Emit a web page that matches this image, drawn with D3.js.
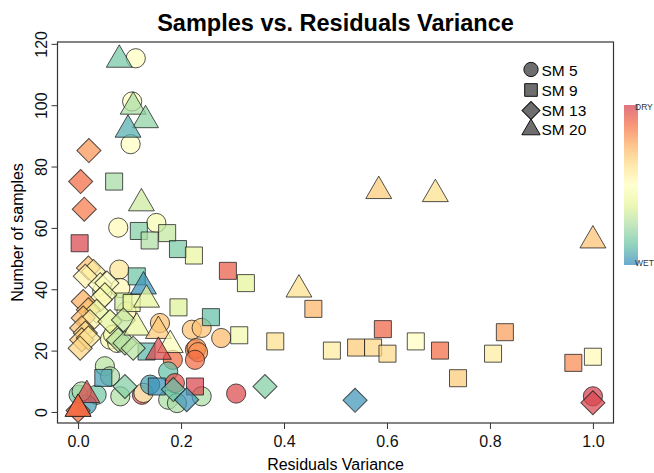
<!DOCTYPE html>
<html>
<head>
<meta charset="utf-8">
<script src="https://cdn.jsdelivr.net/npm/d3@7"></script>
<style>
  body { margin: 0; background: #fff; }
  svg { display: block; font-family: "Liberation Sans", Arial, Helvetica, sans-serif; }
</style>
</head>
<body>
<div id="chart"></div>
<script>
// each point: [residuals variance, number of samples, wetness (0 = dry, 1 = wet)]
var sm5 = [
  [0.112, 115.3, 0.50], [0.105, 101.2, 0.50], [0.102, 87.3, 0.50], [0.078, 60.1, 0.48],
  [0.152, 61.6, 0.55], [0.080, 46.4, 0.40], [0.047, 39.3, 0.50], [0.082, 40.4, 0.47],
  [0.094, 32.8, 0.45], [0.062, 23.6, 0.55], [0.076, 22.5, 0.52], [0.068, 25.2, 0.55],
  [0.159, 29.0, 0.30], [0.221, 26.8, 0.30], [0.240, 27.4, 0.30], [0.278, 24.1, 0.28],
  [0.227, 20.3, 0.20], [0.230, 20.8, 0.20], [0.233, 19.5, 0.20], [0.227, 17.0, 0.12],
  [0.184, 17.0, 0.12], [0.175, 13.2, 0.88], [0.052, 14.9, 0.72], [0.062, 11.6, 0.75],
  [0.082, 5.1, 0.74], [0.124, 5.6, 0.05], [0.127, 6.2, 0.50], [0.140, 8.9, 0.95],
  [0.175, 4.0, 0.75], [0.192, 2.9, 0.75], [0.188, 9.4, 0.05], [0.240, 5.1, 0.75],
  [0.307, 6.0, 0.03], [0.001, 5.6, 0.85], [0.036, 5.6, 0.85], [0.017, 2.4, 0.95],
  [0.007, 6.7, 0.75], [1.000, 5.1, 0.00]
];
var sm9 = [
  [0.070, 75.1, 0.76], [0.003, 55.0, 0.02], [0.118, 59.0, 0.82], [0.139, 55.9, 0.74],
  [0.173, 58.3, 0.70], [0.194, 53.1, 0.84], [0.225, 51.0, 0.60], [0.291, 46.0, 0.08],
  [0.326, 42.0, 0.62], [0.114, 44.2, 0.86], [0.088, 36.0, 0.68], [0.104, 35.5, 0.60],
  [0.195, 34.1, 0.64], [0.258, 30.9, 0.88], [0.313, 25.0, 0.56], [0.383, 23.0, 0.38],
  [0.457, 33.6, 0.27], [0.133, 19.7, 0.90], [0.049, 11.1, 0.95], [0.153, 8.3, 0.98],
  [0.227, 8.3, 0.02], [0.493, 20.0, 0.42], [0.540, 21.0, 0.32], [0.573, 21.0, 0.35],
  [0.592, 27.0, 0.10], [0.601, 19.0, 0.36], [0.656, 23.0, 0.50], [0.703, 20.0, 0.12],
  [0.738, 11.0, 0.32], [0.806, 19.0, 0.42], [0.829, 26.0, 0.22], [0.962, 16.0, 0.18],
  [1.000, 18.0, 0.48]
];
var sm13 = [
  [0.021, 85.2, 0.20], [0.005, 75.1, 0.12], [0.012, 66.1, 0.15], [0.020, 46.9, 0.30],
  [0.030, 45.8, 0.42], [0.014, 44.2, 0.45], [0.043, 41.5, 0.50], [0.056, 42.0, 0.52],
  [0.052, 38.2, 0.58], [0.043, 36.6, 0.48], [0.010, 36.0, 0.25], [0.020, 33.3, 0.30],
  [0.036, 32.8, 0.60], [0.010, 30.6, 0.28], [0.023, 29.5, 0.45], [0.007, 27.4, 0.30],
  [0.014, 25.7, 0.38], [0.007, 23.5, 0.32], [0.020, 24.1, 0.40], [0.004, 20.8, 0.35],
  [0.062, 29.5, 0.62], [0.088, 30.0, 0.70], [0.078, 23.5, 0.72], [0.091, 22.5, 0.73],
  [0.107, 20.8, 0.72], [0.091, 8.3, 0.82], [0.185, 7.3, 0.88], [0.211, 4.0, 0.97],
  [0.363, 8.3, 0.82], [0.538, 3.8, 0.97], [1.000, 3.0, 0.02], [0.000, 0.5, 0.12]
];
var sm20 = [
  [0.080, 114.8, 0.85], [0.107, 99.5, 0.75], [0.131, 95.1, 0.80], [0.097, 92.0, 0.92],
  [0.123, 68.0, 0.68], [0.584, 72.0, 0.32], [0.694, 71.0, 0.38], [1.000, 55.9, 0.30],
  [0.429, 39.9, 0.38], [0.127, 40.9, 0.98], [0.133, 36.6, 0.62], [0.114, 27.5, 0.60],
  [0.156, 26.4, 0.32], [0.179, 21.8, 0.52], [0.156, 19.6, 0.03], [0.017, 5.5, 0.03],
  [0.000, 1.0, 0.12], [0.000, 1.0, 0.12]
];

var seriesNames = ["SM 5", "SM 9", "SM 13", "SM 20"];
var xTicks = [0, 0.2, 0.4, 0.6, 0.8, 1.0];
var yTicks = [0, 20, 40, 60, 80, 100, 120];
var xLim = [-0.04, 1.04];
var yLim = [-3.6, 120.6];
var spectral = ["#D53E4F", "#F46D43", "#FDAE61", "#FEE08B", "#FFFFBF",
                "#E6F598", "#ABDDA4", "#66C2A5", "#3288BD"];

var width = 654, height = 473;
var plot = {left: 57.5, right: 613.5, top: 42, bottom: 423};

var svg = d3.select("#chart").append("svg")
  .attr("width", width)
  .attr("height", height);

var x = d3.scaleLinear().domain(xLim).range([plot.left, plot.right]);
var y = d3.scaleLinear().domain(yLim).range([plot.bottom, plot.top]);
var color = d3.scaleLinear()
  .domain(spectral.map(function(d, i) { return i / (spectral.length - 1); }))
  .range(spectral);

/* one symbol per soil moisture depth */
var shapes = [
  {type: d3.symbolCircle, rot: 0},
  {type: d3.symbolSquare, rot: 0},
  {type: d3.symbolSquare, rot: 45},
  {type: d3.symbolTriangle, rot: 0}
];
var series = [sm5, sm9, sm13, sm20];

series.forEach(function(pts, i) {
  var sym = d3.symbol().type(shapes[i].type).size(290);
  svg.append("g").selectAll("path")
    .data(pts)
    .enter().append("path")
    .attr("d", sym)
    .attr("transform", function(d) {
      return "translate(" + x(d[0]) + "," + y(d[1]) + ") rotate(" + shapes[i].rot + ")";
    })
    .attr("fill", function(d) { return color(d[2]); })
    .attr("fill-opacity", 0.72)
    .attr("stroke", "#1a1a1a")
    .attr("stroke-opacity", 0.75)
    .attr("stroke-width", 1);
});

/* box */
svg.append("rect")
  .attr("x", plot.left).attr("y", plot.top)
  .attr("width", plot.right - plot.left)
  .attr("height", plot.bottom - plot.top)
  .attr("fill", "none")
  .attr("stroke", "#333")
  .attr("stroke-width", 1.2);

/* axes */
var xAxis = svg.append("g")
  .attr("transform", "translate(0," + plot.bottom + ")")
  .call(d3.axisBottom(x).tickValues(xTicks).tickFormat(d3.format(".1f"))
    .tickSize(6).tickPadding(5).tickSizeOuter(0));
xAxis.select(".domain").remove();
xAxis.selectAll("line").attr("stroke", "#333");
xAxis.selectAll("text")
  .attr("font-size", 16)
  .attr("font-family", "Liberation Sans, Arial, sans-serif")
  .attr("fill", "#111")
  .attr("dy", null)
  .attr("y", 24);

var yAxis = svg.append("g")
  .attr("transform", "translate(" + plot.left + ",0)")
  .call(d3.axisLeft(y).tickValues(yTicks).tickSize(6).tickSizeOuter(0));
yAxis.select(".domain").remove();
yAxis.selectAll("line").attr("stroke", "#333");
yAxis.selectAll("text")
  .attr("font-size", 16)
  .attr("font-family", "Liberation Sans, Arial, sans-serif")
  .attr("fill", "#111")
  .attr("text-anchor", "middle")
  .attr("x", null)
  .attr("dy", null)
  .attr("transform", "translate(-11,0) rotate(-90)");

/* titles */
svg.append("text")
  .attr("x", 335.5)
  .attr("y", 31)
  .attr("text-anchor", "middle")
  .attr("font-size", 23.5)
  .attr("font-weight", "bold")
  .text("Samples vs. Residuals Variance");

svg.append("text")
  .attr("x", (plot.left + plot.right) / 2)
  .attr("y", 470)
  .attr("text-anchor", "middle")
  .attr("font-size", 16)
  .text("Residuals Variance");

svg.append("text")
  .attr("transform", "translate(23," + (plot.top + plot.bottom) / 2 + ") rotate(-90)")
  .attr("text-anchor", "middle")
  .attr("font-size", 16)
  .text("Number of samples");

/* legend */
var legend = svg.append("g").attr("transform", "translate(531,0)");
var legendY = [69.5, 90, 110.5, 129.5];
seriesNames.forEach(function(name, i) {
  legend.append("path")
    .attr("d", d3.symbol().type(shapes[i].type).size(i == 3 ? 145 : 160))
    .attr("transform", "translate(0," + legendY[i] + ") rotate(" + shapes[i].rot + ")")
    .attr("fill", "#6e6e6e")
    .attr("stroke", "#111")
    .attr("stroke-width", 1);
  legend.append("text")
    .attr("x", 10.5)
    .attr("y", [75.5, 95.5, 115.5, 135][i])
    .attr("font-size", 15.5)
    .text(name);
});

/* dry / wet colour bar */
var grad = svg.append("defs").append("linearGradient")
  .attr("id", "wetness")
  .attr("x1", 0).attr("y1", 0).attr("x2", 0).attr("y2", 1);
grad.selectAll("stop")
  .data(spectral)
  .enter().append("stop")
  .attr("offset", function(d, i) { return i / (spectral.length - 1); })
  .attr("stop-color", function(d) { return d; });

svg.append("rect")
  .attr("x", 624).attr("y", 105)
  .attr("width", 14).attr("height", 160)
  .attr("fill", "url(#wetness)")
  .attr("fill-opacity", 0.72);

svg.append("text")
  .attr("x", 635).attr("y", 110)
  .attr("font-size", 8.5)
  .attr("fill", "#333")
  .text("DRY");
svg.append("text")
  .attr("x", 635).attr("y", 266)
  .attr("font-size", 8.5)
  .attr("fill", "#333")
  .text("WET");
</script>
</body>
</html>
